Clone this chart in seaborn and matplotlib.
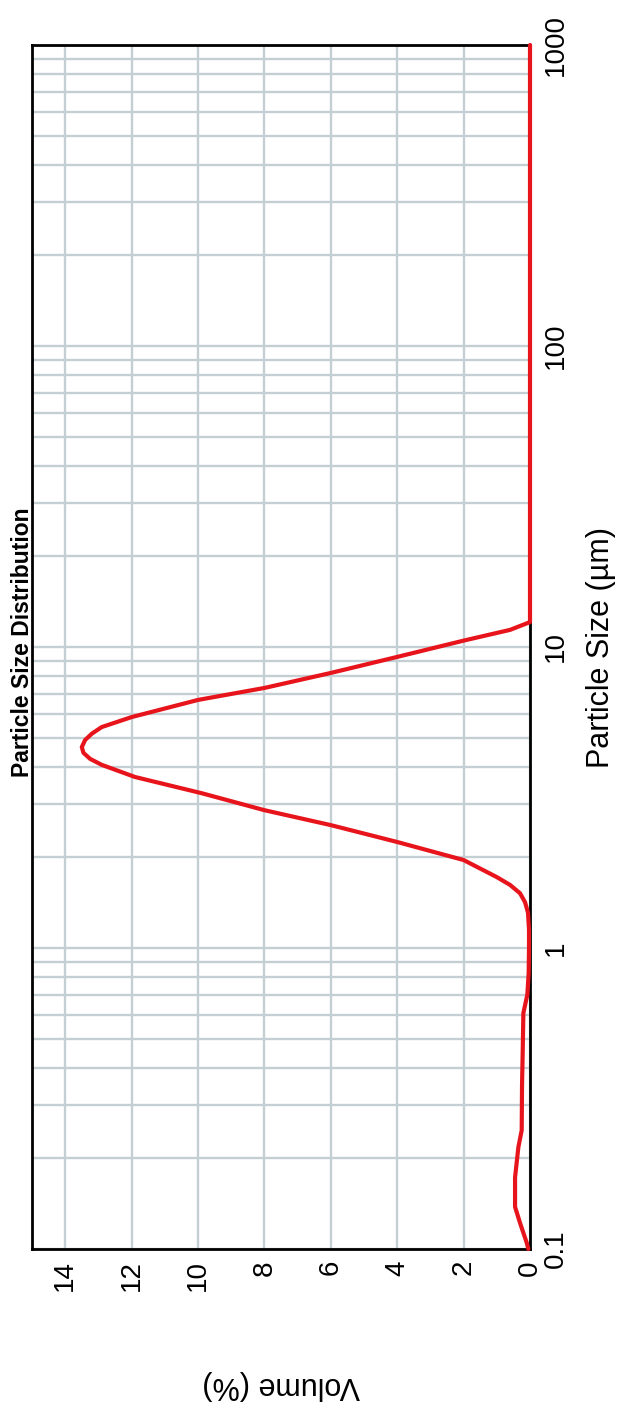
import numpy as np
import pandas as pd
import matplotlib
matplotlib.use("Agg")
import matplotlib.pyplot as plt
from matplotlib.ticker import LogLocator, FuncFormatter, NullFormatter
import seaborn as sns

# Particle size (µm) and the volume fraction (%) measured in each size class
particle_size_um = [0.100, 0.105, 0.122, 0.138, 0.173, 0.218, 0.248, 0.35, 0.45,
                    0.608, 0.70, 0.826, 1.00, 1.15, 1.31, 1.42, 1.52, 1.62, 1.72,
                    1.96, 2.25, 2.56, 2.87, 3.27, 3.70, 4.06, 4.25, 4.45, 4.65,
                    4.91, 5.15, 5.42, 5.85, 6.67, 7.31, 8.20, 9.27, 10.5, 11.4,
                    12.1, 20.0, 50.0, 100.0, 200.0, 500.0, 1000.0]
volume_pct = [0.05, 0.10, 0.30, 0.45, 0.45, 0.35, 0.25, 0.24, 0.22,
              0.20, 0.08, 0.04, 0.03, 0.03, 0.06, 0.15, 0.30, 0.60, 1.00,
              2.00, 4.00, 6.00, 8.00, 9.90, 11.9, 12.9, 13.25, 13.45, 13.5,
              13.4, 13.2, 12.9, 12.0, 10.0, 8.00, 6.00, 4.00, 2.00, 0.60,
              0.00, 0.00, 0.00, 0.00, 0.00, 0.00, 0.00]

volume_ticks = [0, 2, 4, 6, 8, 10, 12, 14]
size_ticks = [0.1, 1, 10, 100, 1000]

title_text = "Particle Size Distribution"
size_label = "Particle Size (µm)"
volume_label = "Volume (%)"

sns.set_theme(style="white")
plt.rcParams["font.family"] = ["Liberation Sans", "DejaVu Sans"]
plt.rcParams["text.color"] = "black"
plt.rcParams["xtick.color"] = "black"
plt.rcParams["ytick.color"] = "black"

W, H = 620, 1406
fig = plt.figure(figsize=(W / 100, H / 100), dpi=100)
left, right, top, bottom = 32, 530, 45, 1249
ax = fig.add_axes([left / W, 1 - bottom / H, (right - left) / W, (bottom - top) / H])

df = pd.DataFrame({"size": particle_size_um, "volume": volume_pct})
sns.lineplot(data=df, x="volume", y="size", sort=False, estimator=None,
             color="#e8141c", linewidth=3.0, ax=ax, zorder=3, clip_on=False)
for ln in ax.lines:
    ln.set_solid_joinstyle("round")
    ln.set_solid_capstyle("round")

# The chart is laid on its side: size runs upward, volume grows to the left
ax.set_yscale("log")
ax.set_ylim(0.1, 1000)
ax.set_xlim(15, 0)
ax.set_xticks(volume_ticks)
ax.yaxis.set_major_locator(LogLocator(base=10))
ax.yaxis.set_minor_locator(LogLocator(base=10, subs=np.arange(2, 10)))
ax.yaxis.set_minor_formatter(NullFormatter())
ax.set_yticks(size_ticks)
ax.yaxis.set_major_formatter(FuncFormatter(lambda v, p: f"{v:g}"))
ax.yaxis.tick_right()

grid_kw = dict(color="#c3cfd3", linewidth=1.7)
ax.xaxis.grid(True, which="major", **grid_kw)
ax.yaxis.grid(True, which="both", **grid_kw)
ax.set_axisbelow(True)

for s in ax.spines.values():
    s.set_color("black")
    s.set_linewidth(2.0)

ax.tick_params(axis="both", which="both", length=0, labelcolor="black")
ax.tick_params(axis="x", labelsize=20, pad=8, labelrotation=90)
ax.tick_params(axis="y", labelsize=20, pad=9, labelrotation=90)
for lbl in ax.get_yticklabels():
    lbl.set_verticalalignment("center")
    lbl.set_horizontalalignment("left")

ax.set_xlabel("")
ax.set_ylabel("")

fig.text(23 / W, 1 - 642 / H, title_text, rotation=90, fontsize=16.5,
         fontweight="bold", ha="center", va="center", color="black")
fig.text(601 / W, 1 - 648 / H, size_label, rotation=90, fontsize=22,
         ha="center", va="center", color="black")
fig.text(281 / W, 1 - 1385 / H, volume_label, rotation=180, fontsize=22,
         ha="center", va="center", color="black")

fig.savefig("out.png", dpi=100)
